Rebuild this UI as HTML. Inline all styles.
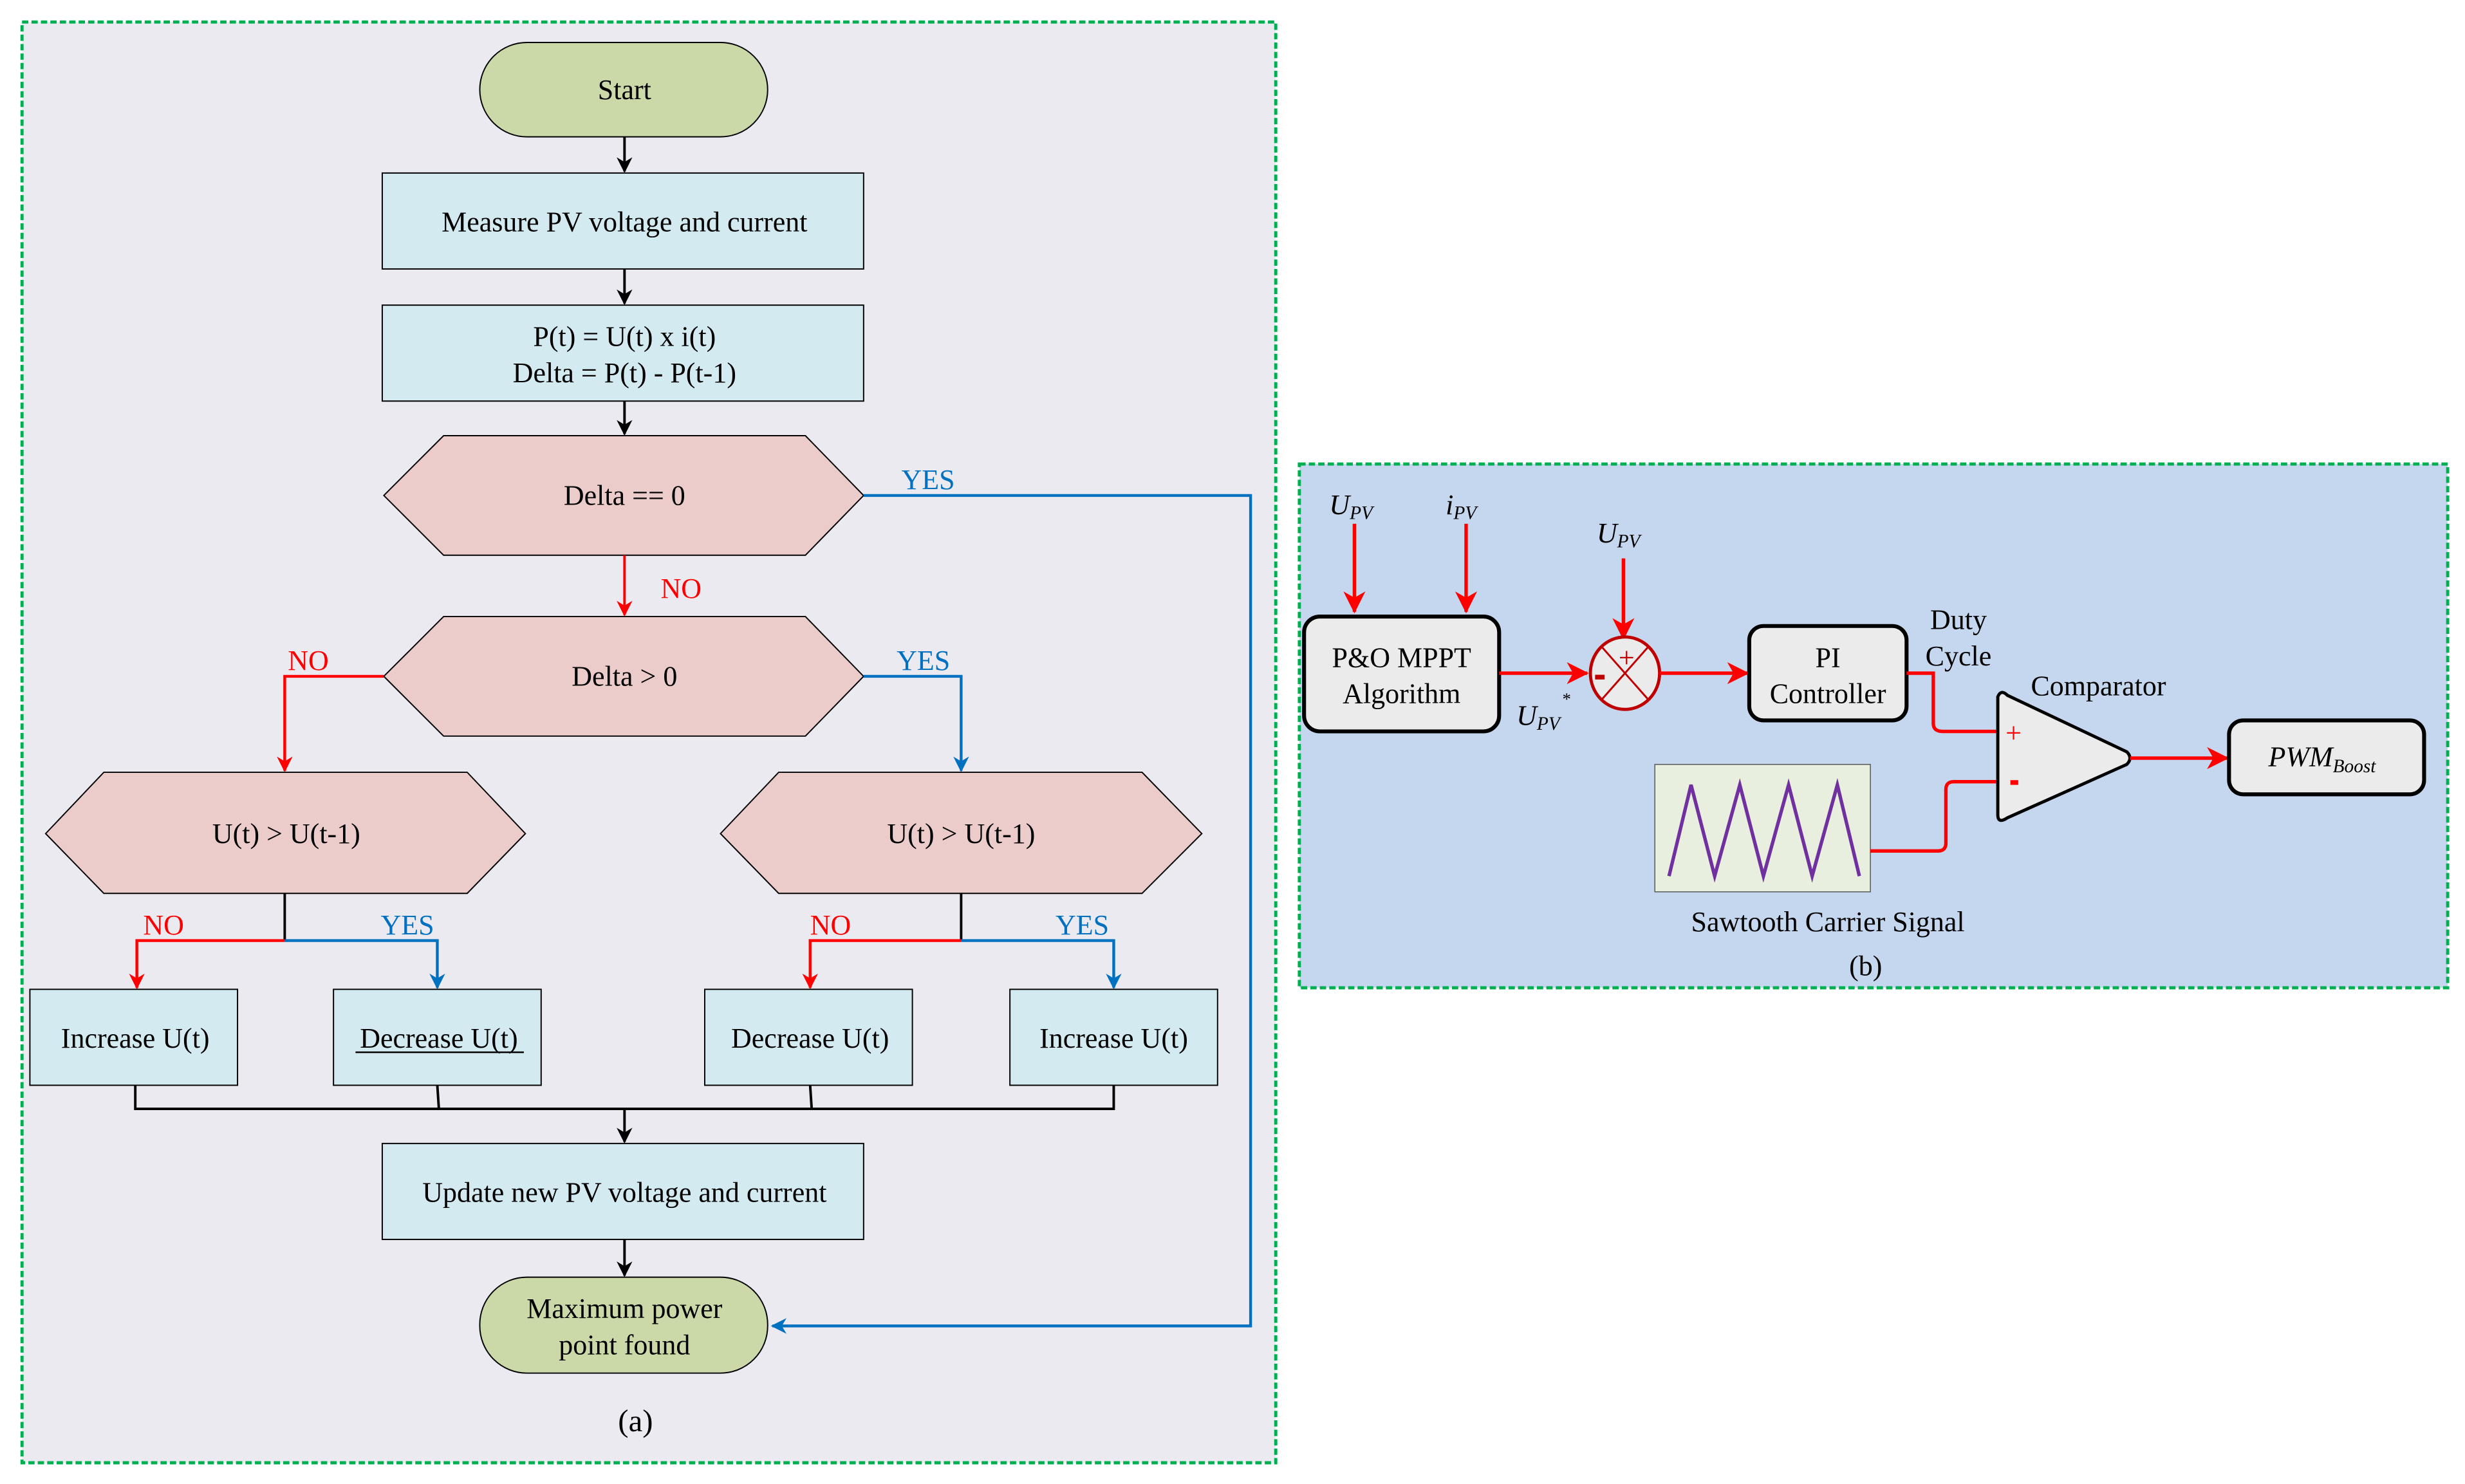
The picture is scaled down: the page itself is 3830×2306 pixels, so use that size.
<!DOCTYPE html>
<html><head><meta charset="utf-8"><style>html,body{margin:0;padding:0;background:#fff}svg{display:block}svg text{font-family:'Liberation Serif','Times New Roman',serif;font-size:18px;fill:#000}</style></head><body>
<svg width="3830" height="2306" viewBox="0 0 1567 943.5" preserveAspectRatio="none" xmlns="http://www.w3.org/2000/svg" font-family="'Liberation Serif', 'Times New Roman', serif">
<defs>
<marker id="ak" markerWidth="10" markerHeight="10" refX="9" refY="5" orient="auto" markerUnits="userSpaceOnUse"><path d="M0,0 L10,5 L0,10 L3,5 z" fill="#000"/></marker>
<marker id="ar" markerWidth="10" markerHeight="10" refX="9" refY="5" orient="auto" markerUnits="userSpaceOnUse"><path d="M0,0 L10,5 L0,10 L3,5 z" fill="#f00"/></marker>
<marker id="ab" markerWidth="10" markerHeight="10" refX="9" refY="5" orient="auto" markerUnits="userSpaceOnUse"><path d="M0,0 L10,5 L0,10 L3,5 z" fill="#0070c0"/></marker>
<marker id="ar2" markerWidth="14" markerHeight="14" refX="13" refY="7" orient="auto" markerUnits="userSpaceOnUse"><path d="M0,0 L14,7 L0,14 L4,7 z" fill="#f00"/></marker>
</defs>
<g font-family="'Liberation Serif', serif" font-size="18">
<!-- panel a -->
<rect x="14" y="14" width="797" height="916" fill="#eceaf1" stroke="#00b050" stroke-width="2" stroke-dasharray="4,2"/>
<rect x="305" y="27" width="183" height="60" rx="30" fill="#cbd9a8" stroke="#000" stroke-width="0.8"/>
<text x="397" y="63" text-anchor="middle">Start</text>
<line x1="397" y1="87" x2="397" y2="109" stroke="#000" stroke-width="1.6" marker-end="url(#ak)"/>
<rect x="243" y="110" width="306" height="61" fill="#d2eaf0" stroke="#000" stroke-width="0.8"/>
<text x="397" y="147" text-anchor="middle">Measure PV voltage and current</text>
<line x1="397" y1="171" x2="397" y2="193" stroke="#000" stroke-width="1.6" marker-end="url(#ak)"/>
<rect x="243" y="194" width="306" height="61" fill="#d2eaf0" stroke="#000" stroke-width="0.8"/>
<text x="397" y="220" text-anchor="middle">P(t) = U(t) x i(t)</text>
<text x="397" y="243" text-anchor="middle">Delta = P(t) - P(t-1)</text>
<line x1="397" y1="255" x2="397" y2="276" stroke="#000" stroke-width="1.6" marker-end="url(#ak)"/>
<polygon points="244,315 282,277 512,277 549,315 512,353 282,353" fill="#eccccb" stroke="#000" stroke-width="0.8"/>
<text x="397" y="321" text-anchor="middle">Delta == 0</text>
<polyline points="549,315 795,315 795,843 491,843" fill="none" stroke="#0070c0" stroke-width="1.8" marker-end="url(#ab)"/>
<text x="573" y="311" fill="#0070c0" style="fill:#0070c0">YES</text>
<line x1="397" y1="353" x2="397" y2="391" stroke="#f00" stroke-width="1.6" marker-end="url(#ar)"/>
<text x="420" y="380" style="fill:#f00">NO</text>
<polygon points="244,430 282,392 512,392 549,430 512,468 282,468" fill="#eccccb" stroke="#000" stroke-width="0.8"/>
<text x="397" y="436" text-anchor="middle">Delta &gt; 0</text>
<polyline points="244,430 181,430 181,490" fill="none" stroke="#f00" stroke-width="1.8" marker-end="url(#ar)"/>
<text x="183" y="426" style="fill:#f00">NO</text>
<polyline points="549,430 611,430 611,490" fill="none" stroke="#0070c0" stroke-width="1.8" marker-end="url(#ab)"/>
<text x="570" y="426" style="fill:#0070c0">YES</text>
<polygon points="29,530 66,491 297,491 334,530 297,568 66,568" fill="#eccccb" stroke="#000" stroke-width="0.8"/>
<text x="182" y="536" text-anchor="middle">U(t) &gt; U(t-1)</text>
<polygon points="458,530 495,491 726,491 764,530 726,568 495,568" fill="#eccccb" stroke="#000" stroke-width="0.8"/>
<text x="611" y="536" text-anchor="middle">U(t) &gt; U(t-1)</text>
<line x1="181" y1="568" x2="181" y2="598" stroke="#000" stroke-width="1.6"/>
<polyline points="181,598 87,598 87,628" fill="none" stroke="#f00" stroke-width="1.8" marker-end="url(#ar)"/>
<polyline points="181,598 278,598 278,628" fill="none" stroke="#0070c0" stroke-width="1.8" marker-end="url(#ab)"/>
<text x="91" y="594" style="fill:#f00">NO</text>
<text x="242" y="594" style="fill:#0070c0">YES</text>
<line x1="611" y1="568" x2="611" y2="598" stroke="#000" stroke-width="1.6"/>
<polyline points="611,598 515,598 515,628" fill="none" stroke="#f00" stroke-width="1.8" marker-end="url(#ar)"/>
<polyline points="611,598 708,598 708,628" fill="none" stroke="#0070c0" stroke-width="1.8" marker-end="url(#ab)"/>
<text x="515" y="594" style="fill:#f00">NO</text>
<text x="671" y="594" style="fill:#0070c0">YES</text>
<rect x="19" y="629" width="132" height="61" fill="#d2eaf0" stroke="#000" stroke-width="0.8"/>
<text x="86" y="666" text-anchor="middle">Increase U(t)</text>
<rect x="212" y="629" width="132" height="61" fill="#d2eaf0" stroke="#000" stroke-width="0.8"/>
<text x="279" y="666" text-anchor="middle">Decrease U(t)</text>
<line x1="226" y1="669" x2="333" y2="669" stroke="#000" stroke-width="1"/>
<rect x="448" y="629" width="132" height="61" fill="#d2eaf0" stroke="#000" stroke-width="0.8"/>
<text x="515" y="666" text-anchor="middle">Decrease U(t)</text>
<rect x="642" y="629" width="132" height="61" fill="#d2eaf0" stroke="#000" stroke-width="0.8"/>
<text x="708" y="666" text-anchor="middle">Increase U(t)</text>
<polyline points="86,690 86,705 708,705 708,690" fill="none" stroke="#000" stroke-width="1.6"/>
<line x1="278" y1="690" x2="279" y2="705" stroke="#000" stroke-width="1.6"/>
<line x1="515" y1="690" x2="516" y2="705" stroke="#000" stroke-width="1.6"/>
<line x1="397" y1="705" x2="397" y2="726" stroke="#000" stroke-width="1.6" marker-end="url(#ak)"/>
<rect x="243" y="727" width="306" height="61" fill="#d2eaf0" stroke="#000" stroke-width="0.8"/>
<text x="397" y="764" text-anchor="middle">Update new PV voltage and current</text>
<line x1="397" y1="788" x2="397" y2="811" stroke="#000" stroke-width="1.6" marker-end="url(#ak)"/>
<rect x="305" y="812" width="183" height="61" rx="30" fill="#cbd9a8" stroke="#000" stroke-width="0.8"/>
<text x="397" y="838" text-anchor="middle">Maximum power</text>
<text x="397" y="861" text-anchor="middle">point found</text>
<text x="404" y="910" text-anchor="middle" style="font-size:20px">(a)</text>
<!-- panel b -->
<rect x="826" y="295" width="730" height="333" fill="#c5d7ee" stroke="#00b050" stroke-width="2" stroke-dasharray="4,2"/>
<text x="845" y="327" font-style="italic">U<tspan font-size="12" dy="3">PV</tspan></text>
<text x="919" y="327" font-style="italic">i<tspan font-size="12" dy="3">PV</tspan></text>
<text x="1015" y="345" font-style="italic">U<tspan font-size="12" dy="3">PV</tspan></text>
<line x1="861" y1="333" x2="861" y2="389" stroke="#f00" stroke-width="2.2" marker-end="url(#ar2)"/>
<line x1="932" y1="333" x2="932" y2="389" stroke="#f00" stroke-width="2.2" marker-end="url(#ar2)"/>
<line x1="1032" y1="355" x2="1032" y2="406" stroke="#f00" stroke-width="2.2" marker-end="url(#ar2)"/>
<rect x="829" y="392" width="124" height="73" rx="10" fill="#ebebeb" stroke="#000" stroke-width="2.5"/>
<text x="891" y="424" text-anchor="middle">P&amp;O MPPT</text>
<text x="891" y="447" text-anchor="middle">Algorithm</text>
<line x1="953" y1="428" x2="1009" y2="428" stroke="#f00" stroke-width="2.2" marker-end="url(#ar2)"/>
<text x="964" y="461" font-style="italic">U<tspan font-size="12" dy="3">PV</tspan><tspan font-size="11" dy="-16" dx="1">*</tspan></text>
<ellipse cx="1033" cy="428" rx="22" ry="23" fill="#ebebeb" stroke="#c00000" stroke-width="2"/>
<line x1="1018" y1="411" x2="1048" y2="445" stroke="#c00000" stroke-width="1.2"/>
<line x1="1048" y1="411" x2="1018" y2="445" stroke="#c00000" stroke-width="1.2"/>
<text x="1034" y="424" text-anchor="middle" font-size="16" style="fill:#c00000">+</text>
<rect x="1014" y="429" width="6" height="3" fill="#c00000"/>
<line x1="1055" y1="428" x2="1111" y2="428" stroke="#f00" stroke-width="2.2" marker-end="url(#ar2)"/>
<rect x="1112" y="398" width="100" height="60" rx="9" fill="#ebebeb" stroke="#000" stroke-width="2.5"/>
<text x="1162" y="424" text-anchor="middle">PI</text>
<text x="1162" y="447" text-anchor="middle">Controller</text>
<text x="1245" y="400" text-anchor="middle">Duty</text>
<text x="1245" y="423" text-anchor="middle">Cycle</text>
<path d="M1212,428 H1229 V460 Q1229,465 1235,465 H1269" fill="none" stroke="#f00" stroke-width="2.2"/>
<path d="M1270,443 Q1272,438 1276,442 L1352,478 Q1356,482 1352,486 L1276,520 Q1270,524 1270,518 Z" fill="#ebebeb" stroke="#000" stroke-width="2"/>
<text x="1334" y="442" text-anchor="middle">Comparator</text>
<text x="1280" y="472" text-anchor="middle" font-size="16" style="fill:#f00">+</text>
<rect x="1278" y="496" width="5" height="3" fill="#f00"/>
<line x1="1354" y1="482" x2="1416" y2="482" stroke="#f00" stroke-width="2.2" marker-end="url(#ar2)"/>
<rect x="1417" y="458" width="124" height="47" rx="9" fill="#ebebeb" stroke="#000" stroke-width="2.5"/>
<text x="1442" y="487" font-style="italic">PWM<tspan font-size="12" dy="4">Boost</tspan></text>
<rect x="1052" y="486" width="137" height="81" fill="#e9efdf" stroke="#555" stroke-width="0.6"/>
<polyline points="1061,557 1075,499 1090,557 1106,499 1121,557 1137,499 1152,557 1168,499 1182,557" fill="none" stroke="#7030a0" stroke-width="2.2"/>
<path d="M1189,541 H1232 Q1237,541 1237,536 V502 Q1237,497 1242,497 H1269" fill="none" stroke="#f00" stroke-width="2.2"/>
<text x="1162" y="592" text-anchor="middle">Sawtooth Carrier Signal</text>
<text x="1186" y="620" text-anchor="middle" font-size="20">(b)</text>
</g>
</svg>
</body></html>
